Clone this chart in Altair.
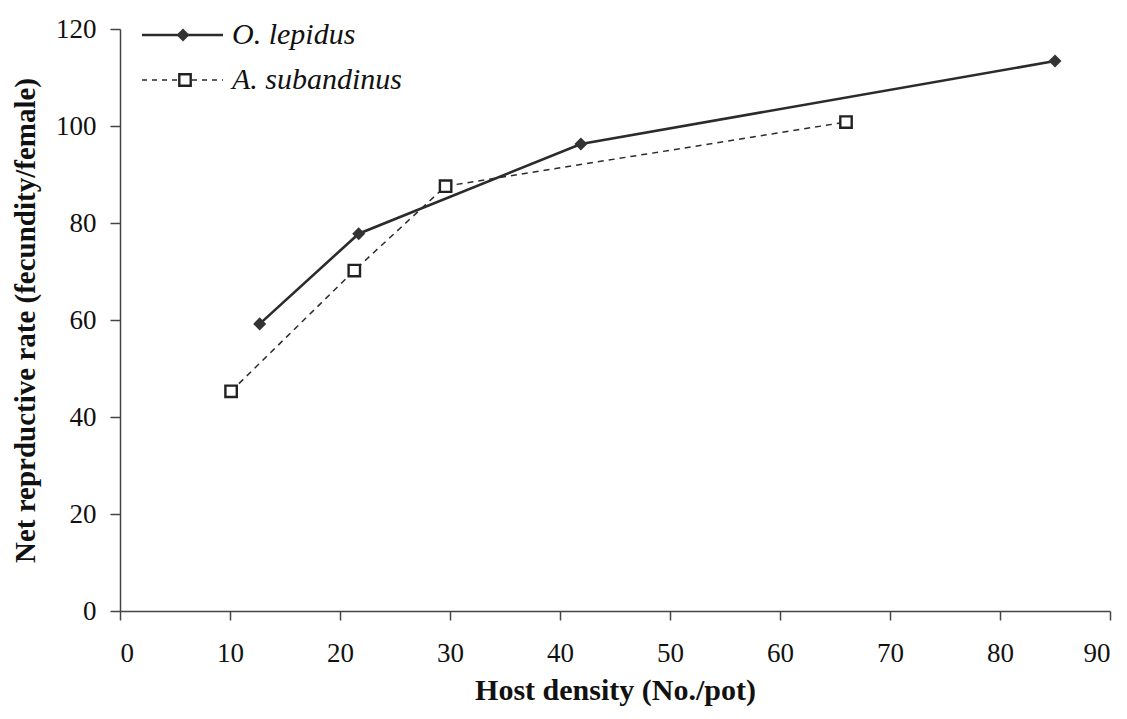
import altair as alt
import pandas as pd

# Data
lep_x = [12.7, 21.7, 41.9, 85.0]
lep_y = [59.2, 77.8, 96.3, 113.4]
sub_x = [10.1, 21.3, 29.6, 66.0]
sub_y = [45.3, 70.2, 87.6, 100.8]
series = ["O. lepidus", "A. subandinus"]

df_lep = pd.DataFrame({"x": lep_x, "y": lep_y})
df_sub = pd.DataFrame({"x": sub_x, "y": sub_y})

FONT = "Liberation Serif"
INK = "#2b2b2b"

xs = alt.Scale(domain=[0, 90], nice=False)
ys = alt.Scale(domain=[0, 120], nice=False)

xenc = alt.X("x:Q", scale=xs, axis=alt.Axis(
    title="Host density (No./pot)", values=list(range(0, 91, 10)),
    grid=False, tickSize=9, labelPadding=20, titlePadding=9,
    labelFont=FONT, labelFontSize=27, titleFont=FONT, titleFontSize=30,
    titleFontWeight="bold", labelColor="#111", titleColor="#111",
    domainColor="#444", tickColor="#444", domainWidth=1.5, tickWidth=1.5))
yenc = alt.Y("y:Q", scale=ys, axis=alt.Axis(
    title="Net reprductive rate (fecundity/female)", values=list(range(0, 121, 20)),
    grid=False, tickSize=10, labelPadding=14, titlePadding=15,
    labelFont=FONT, labelFontSize=27, titleFont=FONT, titleFontSize=29,
    titleFontWeight="bold", labelColor="#111", titleColor="#111",
    domainColor="#444", tickColor="#444", domainWidth=1.5, tickWidth=1.5))

lep_line = alt.Chart(df_lep).mark_line(color=INK, strokeWidth=2.6).encode(x=xenc, y=yenc)
lep_pts = alt.Chart(df_lep).mark_point(shape="diamond", filled=True, color="#333", size=170, opacity=1).encode(x="x:Q", y="y:Q")
sub_line = alt.Chart(df_sub).mark_line(color=INK, strokeWidth=1.5, strokeDash=[6, 5]).encode(x="x:Q", y="y:Q")
sub_pts = alt.Chart(df_sub).mark_point(shape="square", filled=True, fill="white", stroke="#222", strokeWidth=2.4, size=130, opacity=1).encode(x="x:Q", y="y:Q")

# Manual legend (pixel positions within plot area)
leg = pd.DataFrame({"name": series, "row": [0, 1]})
leg_lep = alt.Chart(leg[leg.row == 0]).mark_rule(color=INK, strokeWidth=2.6).encode(
    x=alt.value(22), x2=alt.value(103), y=alt.value(6))
leg_sub = alt.Chart(leg[leg.row == 1]).mark_rule(color=INK, strokeWidth=1.5, strokeDash=[5, 5]).encode(
    x=alt.value(22), x2=alt.value(103), y=alt.value(51))
leg_lep_pt = alt.Chart(leg[leg.row == 0]).mark_point(shape="diamond", filled=True, color="#333", size=170, opacity=1).encode(
    x=alt.value(63), y=alt.value(6))
leg_sub_pt = alt.Chart(leg[leg.row == 1]).mark_point(shape="square", filled=True, fill="white", stroke="#222", strokeWidth=2.4, size=130, opacity=1).encode(
    x=alt.value(65), y=alt.value(51))
leg_txt0 = alt.Chart(leg[leg.row == 0]).mark_text(font=FONT, fontSize=30, fontStyle="italic", align="left", baseline="middle", color="#111").encode(
    x=alt.value(112), y=alt.value(6), text="name:N")
leg_txt1 = alt.Chart(leg[leg.row == 1]).mark_text(font=FONT, fontSize=30, fontStyle="italic", align="left", baseline="middle", color="#111").encode(
    x=alt.value(112), y=alt.value(51), text="name:N")

chart = alt.layer(
    sub_line, lep_line, sub_pts, lep_pts,
    leg_lep, leg_sub, leg_lep_pt, leg_sub_pt, leg_txt0, leg_txt1
).properties(
    width=990, height=582,
    autosize=alt.AutoSizeParams(type="none"),
    padding={"left": 112, "top": 21, "right": 9, "bottom": 100},
).configure(background="white").configure_view(strokeWidth=0)

chart.save("out.html", embed_options={"renderer": "svg", "actions": False})
